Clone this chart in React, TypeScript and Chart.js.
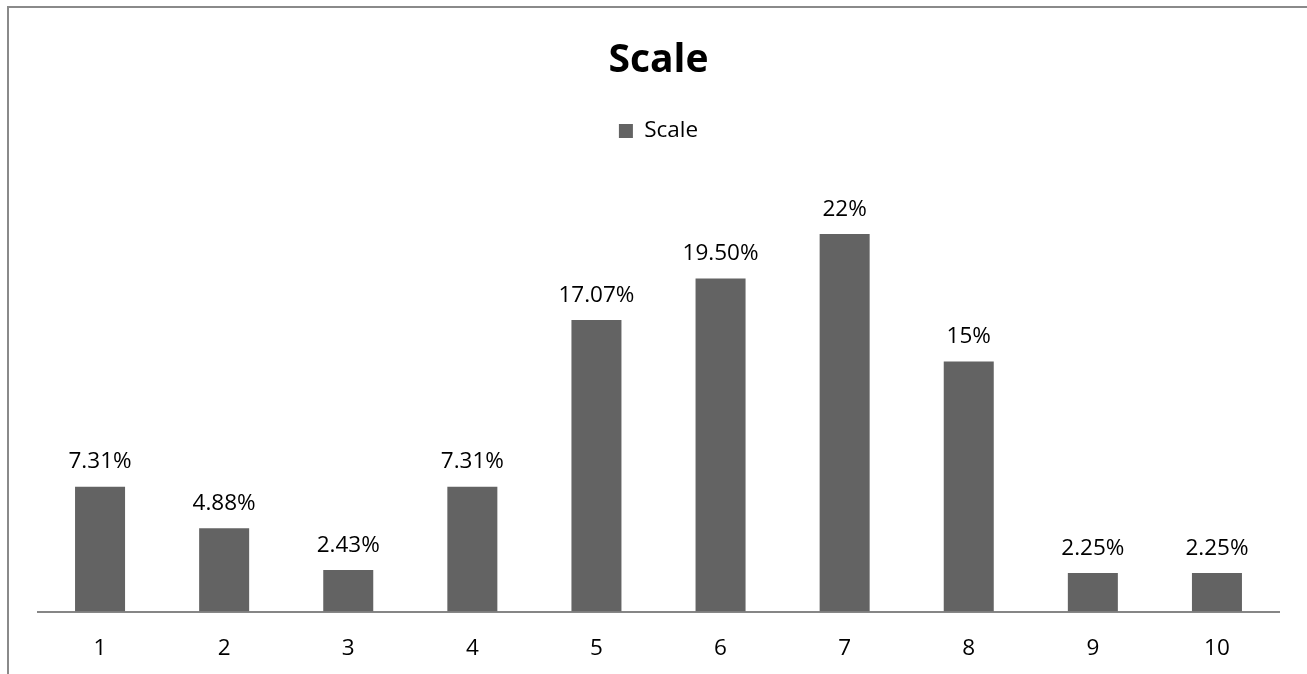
import React, { useEffect, useRef } from "react";
import { Chart, registerables } from "chart.js";

Chart.register(...registerables);

const categories = ["1", "2", "3", "4", "5", "6", "7", "8", "9", "10"];
const seriesName = "Scale";
const values = [7.31, 4.88, 2.43, 7.31, 17.07, 19.5, 22.11, 14.64, 2.25, 2.25];
const valueLabels = ["7.31%", "4.88%", "2.43%", "7.31%", "17.07%", "19.50%", "22%", "15%", "2.25%", "2.25%"];
const titleText = "Scale";

const FONT = "'Open Sans', 'DejaVu Sans', sans-serif";
const BAR_COLOR = "#636363";
const AXIS_COLOR = "#868686";

const dataLabelPlugin = {
  id: "dataLabels",
  afterDatasetsDraw(chart: any) {
    const ctx = chart.ctx;
    const meta = chart.getDatasetMeta(0);
    ctx.save();
    ctx.font = `22.5px ${FONT}`;
    ctx.fillStyle = "#000000";
    ctx.textAlign = "center";
    ctx.textBaseline = "alphabetic";
    meta.data.forEach((bar: any, i: number) => {
      ctx.fillText(valueLabels[i], bar.x, bar.y - 18.5);
    });
    ctx.restore();
  },
};

export default function App() {
  const canvasRef = useRef<HTMLCanvasElement | null>(null);

  useEffect(() => {
    if (!canvasRef.current) return;
    const chart = new Chart(canvasRef.current, {
      type: "bar",
      data: {
        labels: categories,
        datasets: [
          {
            label: seriesName,
            data: values,
            backgroundColor: BAR_COLOR,
            borderWidth: 0,
            categoryPercentage: 1,
            barPercentage: 0.403,
          },
        ],
      },
      options: {
        animation: false,
        responsive: true,
        maintainAspectRatio: false,
        layout: { padding: { left: 38, right: 28, top: 0, bottom: 14.5 } },
        plugins: {
          title: {
            display: true,
            text: titleText,
            color: "#000000",
            font: { family: FONT, size: 39, weight: "bold", lineHeight: 1.2 },
            padding: { top: 37.6, bottom: 25.35 },
          },
          legend: {
            display: true,
            position: "top",
            labels: {
              color: "#000000",
              font: { family: FONT, size: 22.5 },
              boxWidth: 14,
              boxHeight: 14,
              padding: 10,
            },
          },
          tooltip: { enabled: false },
        },
        scales: {
          x: {
            grid: { display: false, drawTicks: false },
            border: { display: true, color: AXIS_COLOR, width: 2 },
            ticks: {
              color: "#000000",
              font: { family: FONT, size: 22.5, lineHeight: 1.2 },
              padding: 23.5,
              maxRotation: 0,
            },
          },
          y: {
            display: false,
            min: 0,
            max: 26.9,
          },
        },
      },
      plugins: [dataLabelPlugin],
    });
    return () => chart.destroy();
  }, []);

  return (
    <div
      style={{
        position: "absolute",
        left: 0,
        top: 0,
        width: 1307,
        height: 674,
        background: "#ffffff",
        overflow: "hidden",
      }}
    >
      <div style={{ position: "absolute", left: 0, top: 0, width: 1307, height: 700 }}>
        <canvas ref={canvasRef} />
      </div>
      <div
        style={{
          position: "absolute",
          left: 7,
          top: 6,
          width: 1300,
          height: 668,
          borderTop: "2px solid #8a8a8a",
          borderLeft: "2px solid #8a8a8a",
          pointerEvents: "none",
          boxSizing: "border-box",
        }}
      />
    </div>
  );
}
